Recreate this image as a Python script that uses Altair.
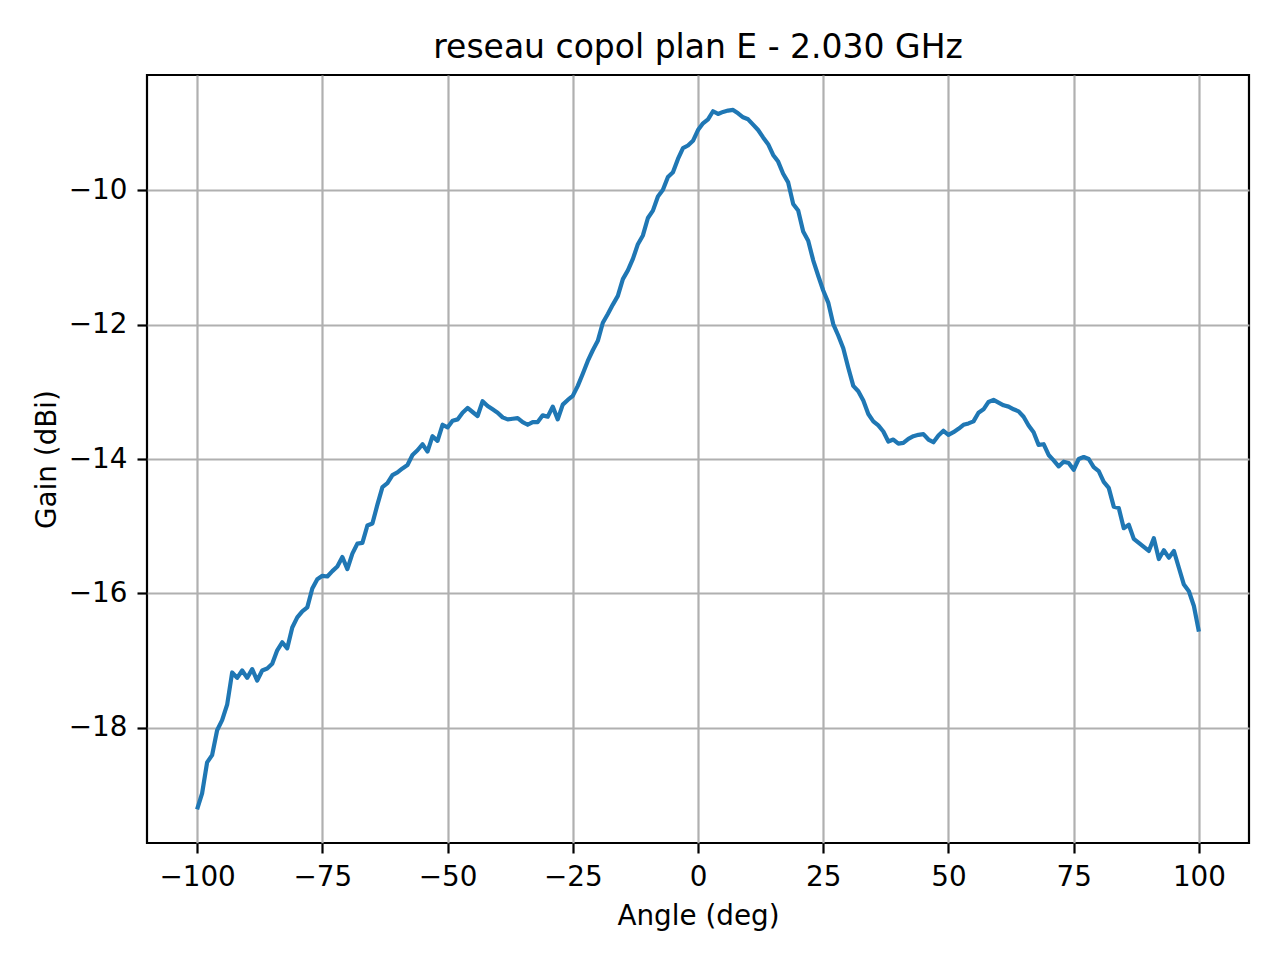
import altair as alt
import pandas as pd

# Angle sweep in degrees (1 degree step)
angles = list(range(-100, 101))

# Co-polar gain in dBi
gain = [
    -19.22, -18.98, -18.52, -18.41, -18.04, -17.89, -17.66, -17.18, -17.26, -17.15,
    -17.26, -17.13, -17.30, -17.15, -17.12, -17.05, -16.85, -16.73, -16.82, -16.51,
    -16.36, -16.27, -16.21, -15.93, -15.79, -15.74, -15.75, -15.67, -15.60, -15.46,
    -15.64, -15.41, -15.26, -15.25, -14.99, -14.96, -14.68, -14.42, -14.36, -14.24,
    -14.20, -14.14, -14.09, -13.94, -13.87, -13.78, -13.89, -13.66, -13.73, -13.49,
    -13.53, -13.43, -13.41, -13.31, -13.24, -13.30, -13.36, -13.14, -13.21, -13.26,
    -13.31, -13.38, -13.41, -13.40, -13.39, -13.45, -13.49, -13.45, -13.45, -13.35,
    -13.37, -13.22, -13.41, -13.19, -13.12, -13.06, -12.91, -12.73, -12.54, -12.38,
    -12.24, -11.97, -11.84, -11.70, -11.57, -11.32, -11.19, -11.02, -10.80, -10.67,
    -10.41, -10.30, -10.09, -9.99, -9.80, -9.73, -9.53, -9.37, -9.33, -9.26,
    -9.10, -9.00, -8.94, -8.82, -8.86, -8.83, -8.81, -8.80, -8.85, -8.91,
    -8.94, -9.02, -9.10, -9.21, -9.31, -9.47, -9.57, -9.75, -9.88, -10.20,
    -10.30, -10.61, -10.75, -11.04, -11.27, -11.49, -11.67, -11.99, -12.16, -12.35,
    -12.64, -12.91, -12.99, -13.13, -13.33, -13.44, -13.50, -13.59, -13.74, -13.71,
    -13.77, -13.76, -13.70, -13.66, -13.64, -13.63, -13.71, -13.75, -13.65, -13.58,
    -13.64, -13.60, -13.55, -13.49, -13.47, -13.44, -13.31, -13.26, -13.15, -13.12,
    -13.16, -13.20, -13.22, -13.26, -13.29, -13.37, -13.50, -13.60, -13.79, -13.78,
    -13.94, -14.02, -14.11, -14.04, -14.06, -14.16, -14.00, -13.97, -14.00, -14.12,
    -14.18, -14.34, -14.43, -14.71, -14.73, -15.03, -14.98, -15.19, -15.25, -15.31,
    -15.37, -15.18, -15.49, -15.36, -15.47, -15.37, -15.62, -15.87, -15.97, -16.19,
    -16.57,
]

x_ticks = [-100, -75, -50, -25, 0, 25, 50, 75, 100]
y_ticks = [-18, -16, -14, -12, -10]

df = pd.DataFrame({"angle": angles, "gain": gain})

FONT = "DejaVu Sans"

chart = alt.Chart(df).mark_line(
    color="#1f77b4", strokeWidth=4.2, strokeJoin="round", clip=True
).encode(
    x=alt.X(
        "angle:Q",
        scale=alt.Scale(domain=[-110, 110], nice=False, zero=False),
        axis=alt.Axis(
            values=x_ticks, title="Angle (deg)", labelFlush=False,
            titleX=551, titleY=81, titleBaseline="alphabetic", titleAlign="center",
        ),
    ),
    y=alt.Y(
        "gain:Q",
        scale=alt.Scale(domain=[-19.72, -8.28], nice=False, zero=False),
        axis=alt.Axis(
            values=y_ticks, title="Gain (dBi)", labelFlush=False,
            titleAngle=270, titleX=-92, titleY=384,
            titleBaseline="alphabetic", titleAlign="center",
        ),
    ),
).properties(
    width=1102,
    height=768,
    title=alt.TitleParams(
        "reseau copol plan E - 2.030 GHz",
        font=FONT, fontSize=33, fontWeight="normal", color="black",
        anchor="middle", baseline="alphabetic", offset=-16,
    ),
    autosize=alt.AutoSizeParams(type="none"),
    padding={"left": 139, "top": 67, "right": 23, "bottom": 100},
    background="white",
).configure_view(
    stroke="black", strokeWidth=2.2
).configure_axis(
    grid=True, gridColor="#b0b0b0", gridWidth=2.2,
    domain=False,
    tickColor="black", tickSize=10, tickWidth=2.2,
    labelFont=FONT, labelFontSize=27.8, labelColor="black", labelPadding=10,
    titleFont=FONT, titleFontSize=27.8, titleFontWeight="normal", titleColor="black",
)

chart.save("out.html", embed_options={"renderer": "svg", "actions": False})
